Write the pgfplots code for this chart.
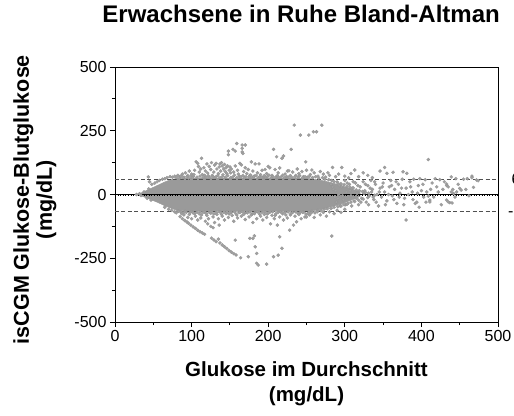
\documentclass[border=0pt]{standalone}
\usepackage{pgfplots}
\pgfplotsset{compat=1.18}
\usepackage{fontspec}
\setmainfont{Liberation Sans}
\definecolor{ptgray}{RGB}{160,160,160}
\definecolor{corefill}{RGB}{154,154,154}
\definecolor{ptedge}{RGB}{148,148,148}
\definecolor{dashgray}{RGB}{80,80,80}
\begin{document}
\begin{tikzpicture}
\begin{axis}[
  scale only axis, width=383pt, height=255pt,
  xmin=0, xmax=500, ymin=-500, ymax=500,
  xtick={0,100,...,500}, ytick={-500,-250,0,250,500},
  minor x tick num=1, minor y tick num=1,
  xtick pos=bottom, ytick pos=left,
  tick align=outside, major tick length=5pt, minor tick length=3pt,
  tick style={black, line width=0.8pt},
  axis line style={line width=0.9pt},
  /pgf/number format/assume math mode=true,
  ticklabel style={font=\fontsize{16}{18}\selectfont},
  title={Erwachsene in Ruhe Bland-Altman},
  title style={at={(axis description cs:0.486,1.149)}, anchor=base, font=\fontsize{24}{28}\selectfont\bfseries},
  xlabel={Glukose im Durchschnitt\\(mg/dL)},
  xlabel style={at={(axis description cs:0.5,-0.155)}, anchor=north, align=center, font=\fontsize{20.5}{25}\selectfont\bfseries, inner sep=0pt},
  ylabel={isCGM Glukose-Blutglukose\\(mg/dL)},
  ylabel style={at={(axis description cs:-0.209,0.48)}, anchor=center, rotate=0, align=center, font=\fontsize{21.5}{23}\selectfont\bfseries, inner sep=0pt},
  clip=true,
]
% dense core of the cloud
\addplot[fill=corefill, draw=corefill, line width=0.5pt] coordinates {
(30,2)(35,7)(40,14)(45,21)(50,28)(55,35)(60,42)(65,49)(70,55)(75,60)(80,62)(90,64)(120,64)(160,64)(200,64)(250,64)
(260,60)(270,55)(280,48)(290,40)(300,30)(310,20)(320,10)
(320,-8)(310,-20)(300,-32)(290,-42)(280,-50)(270,-58)(260,-63)(250,-66)(200,-66)(150,-66)(100,-65)(90,-64)(80,-61)
(75,-56)(70,-50)(65,-44)(60,-37)(55,-30)(50,-24)(45,-18)(40,-12)(35,-6)(30,-2)(30,2)
};
% scattered points
\addplot[only marks, mark=*, mark size=1.6pt, mark options={fill=ptgray, draw=ptedge, line width=0.3pt}] coordinates {
(28,0)(32,3)(34,-4)(38,10)(42,-15)(44,22)(47,-22)(43.5,69)
(45,50)(48,40)(52,45)(55,50)(58,55)(62,60)(65,62)(68,66)(72,70)(75,68)(78,72)(82,75)(85,70)(88,80)(90,68)(92,85)(95,75)(97,92)
(100,80)(102,70)(104,95)(106,128)(108,122)(109,110)(110,88)(112,100)(113,142)(114,78)(116,105)(118,92)(120,120)(121,84)
(123,110)(125,98)(126,125)(127,75)(129,88)(130,115)(132,122)(133,100)(135,82)(136,108)(137,120)(138,92)(139,125)(140,112)
(141,78)(142,100)(143,118)(144,90)(145,105)(146,82)(147,112)(148,170)(148,156)(149,95)(150,108)(151,85)(152,100)(154,177)
(155,88)(157,170)(157,112)(159,200)(160,95)(161,80)(163,122)(165,116)(166,194)(166,181)(166,167)(167,161)(168,90)(170,194)
(170,105)(172,82)(174,98)(176,75)(178,128)(180,92)(182,72)(183,120)(186,85)(188,120)(190,78)(192,95)(194,70)(196,98)
(198,82)(200,110)(202,105)(205,75)(207,177)(209,98)(211,148)(213,85)(215,104)(218,142)(220,151)(222,80)(225,92)(227,93)
(230,177)(232,88)(234,272)(236,75)(238,100)(240,82)(242,233)(244,90)(246,70)(249,128)(250,95)(253,233)(255,78)(257,96)
(259,246)(260,85)(263,246)(265,72)(268,90)(270,272)(272,80)(275,68)(278,85)(280,75)(284,106)(288,70)(292,80)(296,106)
(300,72)(305,65)(308,82)(313,96)(318,70)(324,85)(330,75)(336,66)(346,92)(352,106)(355,83)(363,87)(376,89)(381,83)(409,137)
(282,40)(285,20)(287,-10)(289,-30)(290,50)(292,0)(294,-45)(296,30)(298,-20)(300,55)(302,10)(304,-35)(306,40)(308,-5)
(310,25)(312,-25)(314,45)(316,5)(318,-40)(320,30)(322,-15)(324,50)(326,15)(328,-30)(330,35)(332,-5)(334,55)(336,20)
(338,-20)(340,40)(342,0)(344,-45)(346,25)(348,-10)(350,45)(352,10)(355,-25)(358,30)(360,55)(362,-5)(365,20)(368,-35)
(370,40)(372,5)(375,60)(378,-15)(380,25)(380,-100)(385,50)(388,10)(390,60)(392,-35)(394,-30)(396,35)(398,62)(400,15)
(403,-10)(405,58)(407,10)(409,-6)(411,-22)(411,-29)(414,45)(418,62)(420,30)(424,58)(428,20)(433,41)(433,35)(433,-22)
(435,30)(437,-32)(435,-29)(439,69)(439,10)(441,20)(442,4)(445,62)(446,10)(450,24)(452,17)(455,60)(460,62)(466,72)
(466,66)(468,28)(472,57)(474,54)(440,-33)
(284,30)(288,15)(291,-15)(293,35)(297,-5)(301,-40)(303,45)(307,15)(309,-45)(311,50)(315,-15)(317,35)(321,-30)(325,5)
(327,40)(331,-40)(333,25)(337,-10)(339,50)(341,-30)(345,10)(349,30)(353,-40)(357,0)(361,35)(364,-20)(367,50)(371,-10)
(374,25)(377,-40)(383,0)(386,30)(389,-20)(395,5)(397,-50)(402,40)(406,-30)(412,20)(416,-10)(422,10)(426,-40)(430,50)
(444,-10)(448,40)(458,20)(462,-5)
(80,66)(84,63)(86,72)(89,66)(94,70)(96,64)(99,72)(101,66)(103,78)(107,68)(111,72)(115,66)(117,75)(119,68)(122,73)
(124,66)(128,70)(131,68)(134,74)(137,66)(140,70)(144,68)(147,74)(151,66)(154,70)(156,76)(159,66)(162,72)(164,68)
(167,74)(169,66)(171,70)(175,68)(177,76)(179,66)(181,70)(184,74)(187,66)(189,70)(191,68)(195,74)(197,66)(199,70)
(201,76)(204,66)(206,70)(210,68)(212,74)(214,66)(217,70)(219,76)(221,66)(224,70)(226,68)(229,74)(231,66)(235,70)
(239,68)(241,74)(245,66)(248,70)(251,68)(254,72)(258,66)(262,70)(266,64)(271,66)(274,60)(279,58)(283,55)(286,50)
(291,45)(295,42)(299,38)(303,32)(307,28)(311,26)(315,18)(319,15)(323,12)(327,8)(331,5)(335,10)(339,-3)
(82,-64)(86,-68)(89,-72)(92,-66)(98,-70)(101,-68)(104,-75)(107,-70)(111,-68)(113,-80)(117,-68)(119,-74)(123,-70)
(126,-68)(129,-76)(132,-70)(136,-68)(139,-78)(142,-70)(146,-68)(149,-76)(152,-70)(156,-68)(159,-80)(162,-70)(166,-68)
(169,-74)(172,-70)(176,-68)(179,-76)(183,-70)(186,-68)(189,-78)(192,-70)(196,-68)(199,-76)(202,-70)(206,-68)(209,-82)
(213,-70)(216,-68)(219,-76)(222,-70)(226,-68)(229,-80)(232,-70)(236,-68)(239,-74)(242,-70)(246,-68)(249,-76)(253,-70)
(257,-66)(261,-72)(265,-62)(269,-64)(273,-58)(277,-56)(282,-55)(286,-50)(291,-48)(295,-45)(299,-40)(303,-38)(308,-30)
(313,-28)(318,-22)(324,-18)(330,-12)
(65,-50)(70,-58)(74,-62)(78,-68)(80,-72)(83,-66)(85,-87)(87,-75)(90,-80)(93,-70)(95,-90)(97,-78)(100,-95)(102,-72)
(105,-85)(108,-100)(110,-76)(112,-92)(115,-70)(118,-105)(120,-82)(122,-95)(125,-74)(128,-88)(130,-110)(133,-78)
(135,-95)(138,-70)(140,-85)(143,-100)(145,-75)(148,-90)(150,-72)(153,-82)(155,-105)(158,-76)(160,-92)(163,-70)
(165,-85)(168,-78)(170,-98)(173,-72)(175,-88)(178,-80)(180,-110)(182,-75)(185,-95)(188,-70)(190,-85)(193,-100)
(195,-78)(198,-90)(200,-72)(203,-115)(205,-82)(208,-95)(210,-76)(212,-120)(215,-88)(218,-72)(220,-100)(223,-80)
(225,-92)(228,-140)(230,-75)(233,-120)(235,-85)(237,-107)(240,-78)(243,-95)(245,-70)(248,-88)(250,-88)(252,-76)
(254,-80)(256,-72)(260,-90)(264,-68)(268,-80)(272,-70)(276,-85)(280,-68)(283,-163)(286,-75)(290,-62)(295,-70)(300,-58)
(88,-95)(91,-102)(94,-108)(96,-113)(99,-120)(102,-127)(105,-133)(108,-140)(111,-146)(114,-151)(117,-156)(121,-115)
(125,-125)(128,-130)(136,-120)(126,-171)(129,-178)(132,-185)(135,-175)(137,-190)(140,-198)(143,-205)(146,-212)
(149,-220)(152,-226)(155,-232)(158,-237)(157,-179)(164,-248)(174,-244)(176,-172)(180,-172)(182,-162)(183,-205)
(185,-231)(185,-270)(187,-277)(198,-273)(207,-244)(213,-238)(218,-211)(215,-166)
};
% reference lines
\addplot[dashgray, line width=0.7pt, dash pattern=on 4pt off 2.5pt] coordinates {(0,60)(500,60)};
\addplot[dashgray, line width=0.7pt, dash pattern=on 4pt off 2.5pt] coordinates {(0,-66)(500,-66)};
\addplot[black, dotted, line width=0.6pt] coordinates {(0,-3)(500,-3)};
\addplot[black, line width=0.8pt] coordinates {(0,0)(500,0)};
\end{axis}
\node[anchor=west, inner sep=0pt, font=\fontsize{16}{18}\selectfont] at (396.5pt,{(60+500)*0.255pt}) {60};
\node[anchor=west, inner sep=0pt, font=\fontsize{16}{18}\selectfont] at (393pt,{(-66+500)*0.255pt}) {-66};
\pgfresetboundingbox
\useasboundingbox (-115pt,-93pt) rectangle (399pt,322pt);
\end{tikzpicture}
\end{document}
